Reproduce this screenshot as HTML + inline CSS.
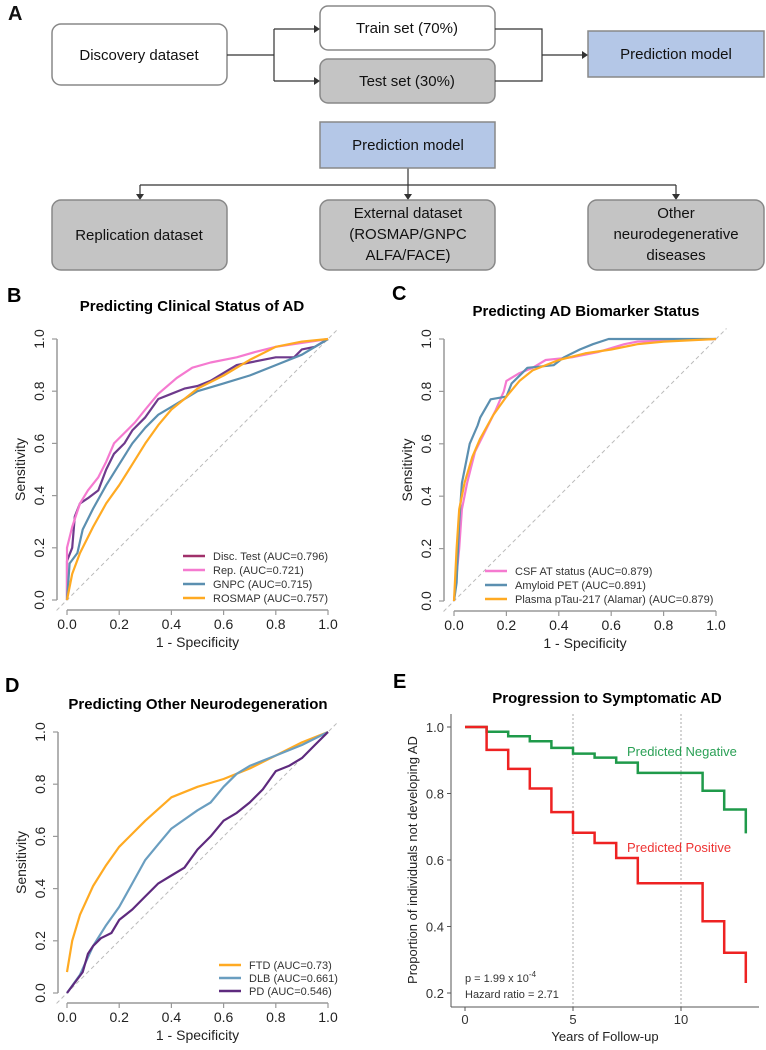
<!DOCTYPE html>
<html><head><meta charset="utf-8">
<style>
body{margin:0;background:#fff;}
svg{display:block;font-family:"Liberation Sans",sans-serif;}
</style></head>
<body>
<svg id="fig" width="766" height="1050" viewBox="0 0 766 1050" xmlns="http://www.w3.org/2000/svg">
<g font-size="15" fill="#111">
<text x="8" y="20" font-size="20" font-weight="bold">A</text>
<rect x="52" y="24" width="175" height="61" rx="9" fill="#fff" stroke="#888" stroke-width="1.5"/>
<text x="139" y="60" text-anchor="middle">Discovery dataset</text>
<rect x="320" y="6" width="175" height="44" rx="8" fill="#fff" stroke="#888" stroke-width="1.5"/>
<text x="407" y="33" text-anchor="middle">Train set (70%)</text>
<rect x="320" y="59" width="175" height="44" rx="8" fill="#c4c4c4" stroke="#888" stroke-width="1.5"/>
<text x="407" y="86" text-anchor="middle">Test set (30%)</text>
<rect x="588" y="31" width="176" height="46" fill="#b4c7e7" stroke="#888" stroke-width="1.5"/>
<text x="676" y="59" text-anchor="middle">Prediction model</text>
<g stroke="#333" stroke-width="1.2" fill="none">
<path d="M227 55 H274 M274 29 V81 M274 29 H316 M274 81 H316"/>
<path d="M495 29 H542 V81 H495 M542 55 H584"/>
<path d="M408 168 V185 M140 185 H676 M140 185 V196 M408 185 V196 M676 185 V196"/>
</g>
<g fill="#333">
<path d="M320 29 l-6 -4 v8z M320 81 l-6 -4 v8z M588 55 l-6 -4 v8z M140 200 l-4 -6 h8z M408 200 l-4 -6 h8z M676 200 l-4 -6 h8z"/>
</g>
<rect x="320" y="122" width="175" height="46" fill="#b4c7e7" stroke="#888" stroke-width="1.5"/>
<text x="408" y="150" text-anchor="middle">Prediction model</text>
<rect x="52" y="200" width="175" height="70" rx="9" fill="#c4c4c4" stroke="#888" stroke-width="1.5"/>
<text x="139" y="240" text-anchor="middle">Replication dataset</text>
<rect x="320" y="200" width="175" height="70" rx="9" fill="#c4c4c4" stroke="#888" stroke-width="1.5"/>
<text x="408" y="218" text-anchor="middle">External dataset</text>
<text x="408" y="239" text-anchor="middle">(ROSMAP/GNPC</text>
<text x="408" y="260" text-anchor="middle">ALFA/FACE)</text>
<rect x="588" y="200" width="176" height="70" rx="9" fill="#c4c4c4" stroke="#888" stroke-width="1.5"/>
<text x="676" y="218" text-anchor="middle">Other</text>
<text x="676" y="239" text-anchor="middle">neurodegenerative</text>
<text x="676" y="260" text-anchor="middle">diseases</text>
</g>
<g id="charts"></g>
</svg>
<script>
// ---- Panel B data ----
const bNames = ["Disc. Test (AUC=0.796)","Rep. (AUC=0.721)","GNPC (AUC=0.715)","ROSMAP (AUC=0.757)"];
const bDiscFpr = [0,0,0.02,0.03,0.05,0.08,0.12,0.15,0.18,0.22,0.25,0.3,0.35,0.4,0.45,0.5,0.55,0.6,0.65,0.7,0.8,0.87,0.9,0.95,1];
const bDiscTpr = [0,0.15,0.2,0.32,0.37,0.39,0.42,0.5,0.56,0.6,0.65,0.7,0.77,0.79,0.81,0.82,0.84,0.87,0.9,0.91,0.93,0.93,0.96,0.97,1];
const bRepFpr = [0,0,0.02,0.05,0.08,0.12,0.15,0.18,0.22,0.26,0.3,0.35,0.42,0.48,0.55,0.65,0.72,0.8,0.9,1];
const bRepTpr = [0,0.2,0.28,0.37,0.42,0.47,0.53,0.6,0.64,0.68,0.73,0.79,0.85,0.89,0.91,0.93,0.95,0.97,0.985,1];
const bGnpcFpr = [0,0.01,0.04,0.06,0.1,0.15,0.2,0.25,0.3,0.35,0.4,0.5,0.6,0.7,0.8,0.9,1];
const bGnpcTpr = [0,0.14,0.18,0.27,0.35,0.44,0.52,0.6,0.66,0.71,0.74,0.8,0.83,0.86,0.9,0.94,1];
const bRosFpr = [0,0.02,0.05,0.1,0.15,0.2,0.25,0.3,0.35,0.4,0.45,0.5,0.6,0.7,0.8,0.9,1];
const bRosTpr = [0,0.1,0.18,0.28,0.37,0.44,0.52,0.6,0.67,0.73,0.77,0.81,0.86,0.92,0.97,0.99,1];
// ---- Panel C data ----
const cNames = ["CSF AT status (AUC=0.879)","Amyloid PET (AUC=0.891)","Plasma pTau-217 (Alamar) (AUC=0.879)"];
const cCsfFpr = [0,0.02,0.03,0.05,0.08,0.12,0.16,0.19,0.2,0.25,0.3,0.35,0.45,0.55,0.65,0.7,1];
const cCsfTpr = [0,0.2,0.35,0.45,0.57,0.65,0.73,0.8,0.84,0.87,0.89,0.92,0.93,0.95,0.98,0.99,1];
const cPetFpr = [0,0.01,0.02,0.03,0.04,0.06,0.09,0.1,0.14,0.2,0.22,0.25,0.28,0.38,0.42,0.48,0.53,0.59,1];
const cPetTpr = [0,0.07,0.3,0.45,0.5,0.6,0.67,0.7,0.77,0.78,0.83,0.86,0.89,0.9,0.93,0.96,0.98,1,1];
const cPtauFpr = [0,0.01,0.02,0.04,0.07,0.1,0.15,0.2,0.25,0.3,0.4,0.5,0.6,0.7,0.8,1];
const cPtauTpr = [0,0.2,0.35,0.45,0.55,0.62,0.71,0.78,0.84,0.88,0.92,0.945,0.96,0.98,0.99,1];
// ---- Panel D data ----
const dNames = ["FTD (AUC=0.73)","DLB (AUC=0.661)","PD (AUC=0.546)"];
const dFtdFpr = [0,0.02,0.05,0.1,0.15,0.2,0.3,0.4,0.5,0.6,0.7,0.8,0.9,1];
const dFtdTpr = [0.08,0.2,0.3,0.41,0.49,0.56,0.66,0.75,0.79,0.82,0.86,0.91,0.96,1];
const dDlbFpr = [0,0.05,0.1,0.15,0.2,0.25,0.3,0.35,0.4,0.5,0.55,0.6,0.65,0.7,0.8,0.9,1];
const dDlbTpr = [0,0.07,0.18,0.26,0.33,0.42,0.51,0.57,0.63,0.7,0.73,0.79,0.84,0.87,0.91,0.95,1];
const dPdFpr = [0,0.03,0.06,0.08,0.1,0.13,0.17,0.2,0.25,0.3,0.35,0.4,0.45,0.5,0.55,0.6,0.65,0.7,0.75,0.8,0.85,0.9,0.95,1];
const dPdTpr = [0,0.04,0.08,0.15,0.18,0.21,0.23,0.28,0.32,0.37,0.42,0.45,0.48,0.55,0.6,0.66,0.69,0.73,0.78,0.85,0.87,0.9,0.95,1];
// ---- Panel E data ----
const eYears = [0,1,2,3,4,5,6,7,8,9,10,11,12,13];
const eNegSurv = [1,0.986,0.972,0.957,0.937,0.92,0.908,0.893,0.862,0.862,0.862,0.808,0.752,0.68];
const ePosSurv = [1,0.931,0.874,0.815,0.744,0.682,0.651,0.606,0.53,0.53,0.53,0.416,0.321,0.23];
const eXTicks = [0,5,10];
const eYTicks = [0.2,0.4,0.6,0.8,1.0];
const rocTicks = [0,0.2,0.4,0.6,0.8,1.0];

const NS="http://www.w3.org/2000/svg";
const root=document.getElementById('charts');
function mk(tag,attrs,parent){const e=document.createElementNS(NS,tag);for(const k in attrs)e.setAttribute(k,attrs[k]);(parent||root).appendChild(e);return e;}
function txt(parent,x,y,s,attrs){const t=mk('text',Object.assign({x:x,y:y},attrs||{}),parent);t.textContent=s;return t;}

function rocPanel(cfg){
  const g=mk('g',{});
  
  
  const sx=v=>cfg.x0+v*(cfg.x1-cfg.x0), sy=v=>cfg.y0-v*(cfg.y0-cfg.y1);
  const L=txt(g,cfg.lx,cfg.ly,cfg.letter,{'font-size':20,'font-weight':'bold'});
  
  
  const T=txt(g,cfg.tx,cfg.ty,cfg.title,{'font-size':15,'font-weight':'bold','text-anchor':'middle'});
  
  
  const dg=mk('line',{x1:sx(-0.04),y1:sy(-0.04),x2:sx(1.04),y2:sy(1.04),stroke:'#bbb','stroke-width':1,'stroke-dasharray':'4,3'},g);
  
  
  const ax=cfg.axX, ay=cfg.axY;
  const yl=mk('line',{x1:ax,y1:sy(0),x2:ax,y2:sy(1),stroke:'#999','stroke-width':1.5},g);
  
  
  const xl=mk('line',{x1:sx(0),y1:ay,x2:sx(1),y2:ay,stroke:'#999','stroke-width':1.5},g);
  
  
  rocTicks.forEach(t=>{
    mk('line',{x1:ax,y1:sy(t),x2:ax-5,y2:sy(t),stroke:'#999','stroke-width':1.2},g);
    mk('line',{x1:sx(t),y1:ay,x2:sx(t),y2:ay+5,stroke:'#999','stroke-width':1.2},g);
    const yt=txt(g,0,0,t.toFixed(1),{'font-size':14,'text-anchor':'middle',fill:'#222',transform:`translate(${ax-13},${sy(t)}) rotate(-90)`});
    
    
    const xt=txt(g,sx(t),ay+19,t.toFixed(1),{'font-size':14,'text-anchor':'middle',fill:'#222'});
    
    
  });
  const ylab=txt(g,0,0,'Sensitivity',{'font-size':14,'text-anchor':'middle',fill:'#222',transform:`translate(${ax-32},${(sy(0)+sy(1))/2}) rotate(-90)`});
  
  
  const xlab=txt(g,(sx(0)+sx(1))/2,ay+37,'1 - Specificity',{'font-size':14,'text-anchor':'middle',fill:'#222'});
  
  
  cfg.series.forEach((s,i)=>{
    const pts=s.fx.map((v,j)=>sx(v).toFixed(1)+','+sy(s.ty[j]).toFixed(1)).join(' ');
    const p=mk('polyline',{points:pts,fill:'none',stroke:s.color,'stroke-width':2.2,'stroke-linejoin':'round'},g);
    
    
    const ly=cfg.legY+i*cfg.legDy;
    mk('line',{x1:cfg.legX,y1:ly,x2:cfg.legX+22,y2:ly,stroke:s.legColor||s.color,'stroke-width':2.5},g);
    const lt=txt(g,cfg.legX+30,ly+4,cfg.names[i],{'font-size':11,fill:'#333'});
    
    
  });
}

rocPanel({id:'panel-b-roc-clinical',letter:'B',lx:7,ly:302,title:'Predicting Clinical Status of AD',tx:192,ty:311,
  x0:67,x1:328,y0:600,y1:339,axX:57,axY:610,legX:183,legY:556,legDy:14,names:bNames,
  series:[{key:'disc-test',fx:bDiscFpr,ty:bDiscTpr,color:'#6e3a8c',legColor:'#a0306a'},
          {key:'rep',fx:bRepFpr,ty:bRepTpr,color:'#f57ad0'},
          {key:'gnpc',fx:bGnpcFpr,ty:bGnpcTpr,color:'#5b8fb0'},
          {key:'rosmap',fx:bRosFpr,ty:bRosTpr,color:'#ffaa22'}]});
rocPanel({id:'panel-c-roc-biomarker',letter:'C',lx:392,ly:300,title:'Predicting AD Biomarker Status',tx:586,ty:316,
  x0:454,x1:716,y0:601,y1:339,axX:444,axY:611,legX:485,legY:571,legDy:14,names:cNames,
  series:[{key:'csf',fx:cCsfFpr,ty:cCsfTpr,color:'#f57ad0'},
          {key:'amyloid-pet',fx:cPetFpr,ty:cPetTpr,color:'#5b8fb0'},
          {key:'plasma-ptau',fx:cPtauFpr,ty:cPtauTpr,color:'#ffaa22'}]});
rocPanel({id:'panel-d-roc-neurodegeneration',letter:'D',lx:5,ly:692,title:'Predicting Other Neurodegeneration',tx:198,ty:709,
  x0:67,x1:328,y0:993,y1:732,axX:58,axY:1003,legX:219,legY:965,legDy:13,names:dNames,
  series:[{key:'ftd',fx:dFtdFpr,ty:dFtdTpr,color:'#ffaa22'},
          {key:'dlb',fx:dDlbFpr,ty:dDlbTpr,color:'#6a9ec0'},
          {key:'pd',fx:dPdFpr,ty:dPdTpr,color:'#5e2a7e'}]});

(function(){
  const g=mk('g',{});
  
  
  const sx=v=>465+v*(681-465)/10, sy=v=>993-(v-0.2)*(993-727)/0.8;
  const L=txt(g,393,688,'E',{'font-size':20,'font-weight':'bold'});
  
  
  const T=txt(g,607,703,'Progression to Symptomatic AD',{'font-size':15,'font-weight':'bold','text-anchor':'middle'});
  
  
  [5,10].forEach(v=>{const l=mk('line',{x1:sx(v),y1:714,x2:sx(v),y2:1007,stroke:'#aaa','stroke-width':1,'stroke-dasharray':'2,2'},g);
    
    });
  const yl=mk('line',{x1:451,y1:714,x2:451,y2:1007,stroke:'#555','stroke-width':1},g);
  
  
  const xl=mk('line',{x1:451,y1:1007,x2:759,y2:1007,stroke:'#555','stroke-width':1},g);
  
  
  eYTicks.forEach(t=>{mk('line',{x1:447,y1:sy(t),x2:451,y2:sy(t),stroke:'#555'},g);
    const e=txt(g,444,sy(t)+5,t.toFixed(1),{'font-size':13,'text-anchor':'end',fill:'#333'});
    
    });
  eXTicks.forEach(t=>{mk('line',{x1:sx(t),y1:1007,x2:sx(t),y2:1011,stroke:'#555'},g);
    const e=txt(g,sx(t),1024,String(t),{'font-size':13,'text-anchor':'middle',fill:'#333'});
    
    });
  const yt=txt(g,0,0,'Proportion of individuals not developing AD',{'font-size':13,'text-anchor':'middle',fill:'#222',transform:'translate(417,860) rotate(-90)'});
  
  
  const xt=txt(g,605,1041,'Years of Follow-up',{'font-size':13,'text-anchor':'middle',fill:'#222'});
  
  
  function step(vals,color,key){
    let d='M'+sx(eYears[0])+','+sy(vals[0]);
    for(let i=1;i<eYears.length;i++){d+=' H'+sx(eYears[i]).toFixed(1)+' V'+sy(vals[i]).toFixed(1);}
    const p=mk('path',{d:d,fill:'none',stroke:color,'stroke-width':2.5},g);
    
    
  }
  step(eNegSurv,'#1f9a4a','predicted-negative');
  step(ePosSurv,'#ee2222','predicted-positive');
  const n=txt(g,627,756,'Predicted Negative',{'font-size':13,fill:'#2aa055'});
  
  
  const p=txt(g,627,852,'Predicted Positive',{'font-size':13,fill:'#ee3333'});
  
  
  const pv=mk('text',{x:465,y:982,'font-size':11,fill:'#333'},g);
  pv.innerHTML='p = 1.99 x 10<tspan dy="-5" font-size="8">-4</tspan>';
  
  
  const hr=txt(g,465,998,'Hazard ratio = 2.71',{'font-size':11,fill:'#333'});
  
  
})();
</script>
</body></html>
